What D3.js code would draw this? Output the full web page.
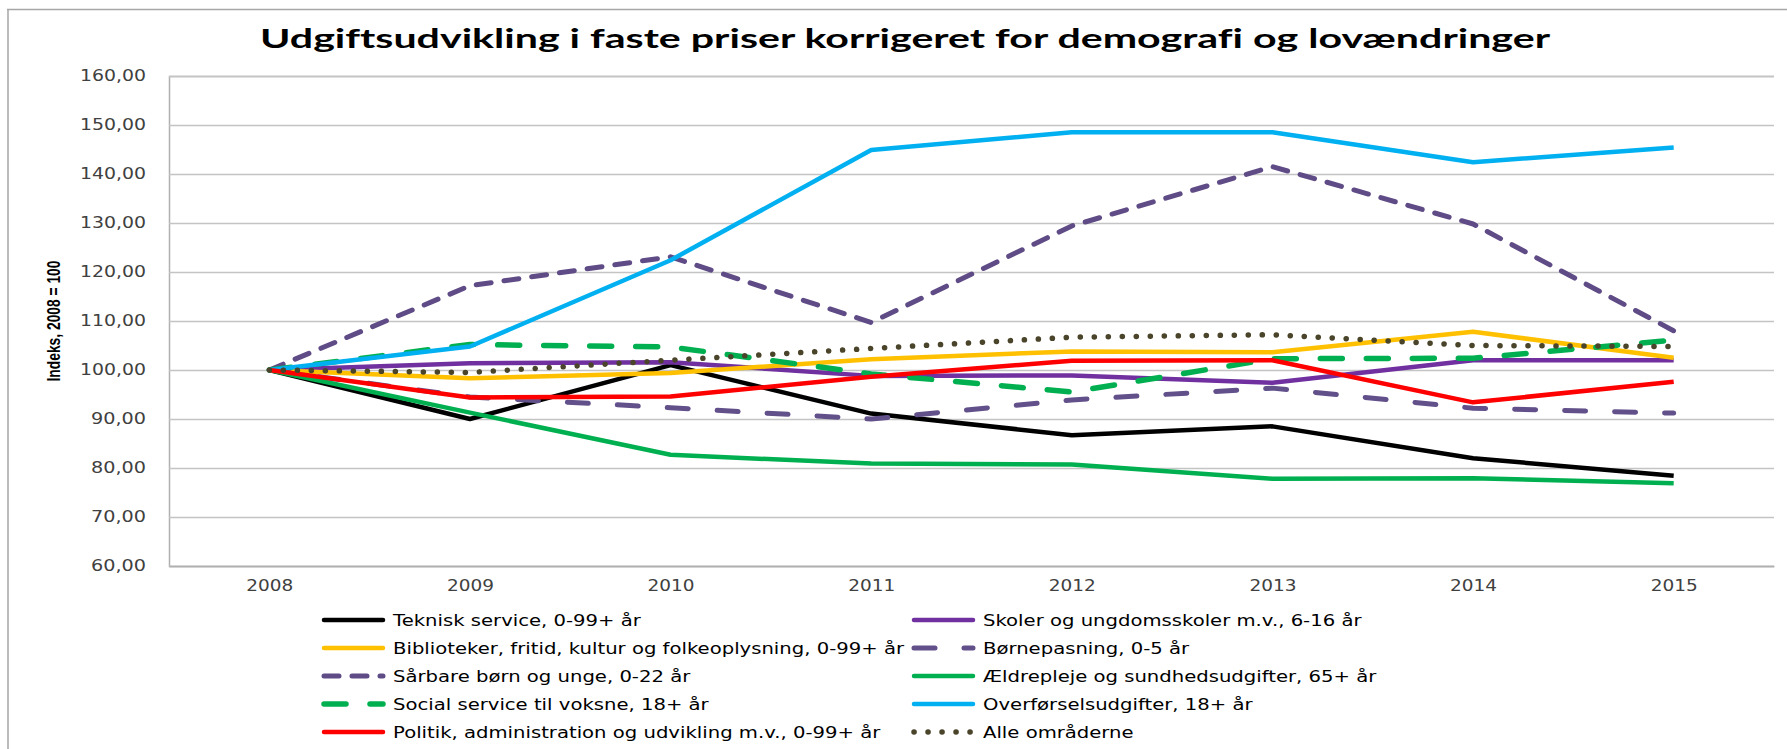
<!DOCTYPE html>
<html><head><meta charset="utf-8">
<script src="https://cdn.jsdelivr.net/npm/d3@7/dist/d3.min.js"></script>
<style>body{margin:0;background:#fff;} svg{display:block;} text{font-variant-ligatures:none;}</style>
</head><body>
<svg id="chart" width="1787" height="749"></svg>
<script>
// ---- data ----
const years = ["2008","2009","2010","2011","2012","2013","2014","2015"];
const yTicks = [60,70,80,90,100,110,120,130,140,150,160];
const titleText = "Udgiftsudvikling i faste priser korrigeret for demografi og lovændringer";
const yAxisTitle = "Indeks, 2008 = 100";

const teknisk     = [100, 90.0, 101.0, 91.1, 86.7, 88.5, 82.0, 78.4];
const skoler      = [100, 101.4, 101.6, 98.8, 98.9, 97.4, 102.0, 102.0];
const biblioteker = [100, 98.3, 99.4, 102.2, 103.8, 103.6, 107.8, 102.5];
const boernepasning = [100, 94.5, 92.3, 90.0, 93.9, 96.3, 92.2, 91.2];
const saarbare    = [100, 117.2, 123.1, 109.7, 129.4, 141.5, 129.8, 108.0];
const aeldrepleje = [100, 91.3, 82.7, 80.9, 80.7, 77.8, 77.9, 76.9];
const socialService = [100, 105.2, 104.7, 99.2, 95.5, 102.3, 102.4, 106.1];
const overfoersel = [100, 104.8, 122.4, 144.9, 148.5, 148.5, 142.4, 145.4];
const politik     = [100, 94.4, 94.6, 98.6, 101.9, 102.0, 93.4, 97.6];
const alle        = [100, 99.5, 102.0, 104.4, 106.7, 107.2, 105.0, 104.8];

const seriesNames = [
  "Teknisk service, 0-99+ år",
  "Skoler og ungdomsskoler m.v., 6-16 år",
  "Biblioteker, fritid, kultur og folkeoplysning, 0-99+ år",
  "Børnepasning, 0-5 år",
  "Sårbare børn og unge, 0-22 år",
  "Ældrepleje og sundhedsudgifter, 65+ år",
  "Social service til voksne, 18+ år",
  "Overførselsudgifter, 18+ år",
  "Politik, administration og udvikling m.v., 0-99+ år",
  "Alle områderne"
];
const seriesValues = [teknisk, skoler, biblioteker, boernepasning, saarbare,
  aeldrepleje, socialService, overfoersel, politik, alle];

// ---- styles (separate from data) ----
const styles = [
  {color:"#000000", width:4.5, dash:null},
  {color:"#7030a0", width:4.5, dash:null},
  {color:"#ffc000", width:4.5, dash:null},
  {color:"#62508a", width:5, dash:"21,29", cap:"round"},
  {color:"#5f4b85", width:5, dash:"15,13", cap:"round"},
  {color:"#00b050", width:4.5, dash:null},
  {color:"#00b050", width:5.5, dash:"22,24", cap:"round"},
  {color:"#00b0f0", width:4.5, dash:null},
  {color:"#ff0000", width:4.5, dash:null},
  {color:"#4a452a", width:5.5, dash:"0.1,13.9", cap:"round"}
];
const series = seriesNames.map((n,i)=>({name:n, values:seriesValues[i], style:styles[i]}));

// ---- layout ----
const svg = d3.select("#chart");
const plot = {left:169, right:1774, top:76, bottom:566};

const x = d3.scalePoint().domain(years).range([plot.left, plot.right]).padding(0.5);
const y = d3.scaleLinear().domain([60,160]).range([plot.bottom, plot.top]);

// chart border
svg.append("line").attr("x1",7).attr("x2",1787).attr("y1",9.5).attr("y2",9.5)
  .attr("stroke","#a6a6a6").attr("stroke-width",1.5);
svg.append("line").attr("x1",8).attr("x2",8).attr("y1",9).attr("y2",749)
  .attr("stroke","#a6a6a6").attr("stroke-width",1.5);

// title
svg.append("text").text(titleText)
  .attr("x",905).attr("y",48).attr("text-anchor","middle")
  .attr("font-family","Lato, 'Open Sans', sans-serif").attr("font-weight","bold")
  .attr("font-size",27).attr("fill","#000")
  .attr("textLength",1290).attr("lengthAdjust","spacingAndGlyphs");

// y axis with gridlines
const yAxis = d3.axisLeft(y).tickValues(yTicks)
  .tickFormat(d => d3.format(".2f")(d).replace(".", ","))
  .tickSize(-(plot.right-plot.left)).tickPadding(23);
const gy = svg.append("g").attr("transform",`translate(${plot.left},0)`).call(yAxis);
gy.select(".domain").attr("stroke","#b0b0b0").attr("stroke-width",1.5);
gy.selectAll(".tick line").attr("stroke","#c4c4c4").attr("stroke-width",1.5);
gy.selectAll(".tick text")
  .attr("font-family","'DejaVu Sans', Verdana, sans-serif").attr("font-size",15)
  .attr("fill","#404040")
  .attr("textLength", d => d >= 100 ? 66 : 55).attr("lengthAdjust","spacingAndGlyphs");

// x axis labels
const xAxis = d3.axisBottom(x).tickSize(0).tickPadding(14);
const gx = svg.append("g").attr("transform",`translate(0,${plot.bottom})`).call(xAxis);
gx.select(".domain").attr("stroke","#b0b0b0").attr("stroke-width",1.5);
gx.selectAll(".tick text")
  .attr("font-family","'DejaVu Sans', Verdana, sans-serif").attr("font-size",15)
  .attr("fill","#404040")
  .attr("textLength",47).attr("lengthAdjust","spacingAndGlyphs");

// y axis title
svg.append("text").text(yAxisTitle)
  .attr("transform","translate(60,321) rotate(-90)")
  .attr("text-anchor","middle")
  .attr("font-family","'Liberation Sans Narrow', 'Liberation Sans', sans-serif")
  .attr("font-weight","bold").attr("font-size",17.5).attr("fill","#000")
  .attr("textLength",121).attr("lengthAdjust","spacingAndGlyphs");

// lines
const line = d3.line().x((d,i)=>x(years[i])).y(d=>y(d));
const gl = svg.append("g");
series.forEach(s=>{
  gl.append("path").datum(s.values)
    .attr("d", line).attr("fill","none")
    .attr("stroke", s.style.color).attr("stroke-width", s.style.width)
    .attr("stroke-linejoin","round")
    .attr("stroke-linecap", s.style.cap || "butt")
    .attr("stroke-dasharray", s.style.dash);
});

// legend
const legX = [322, 912], legY0 = 620, legDY = 28, legLen = 63;
const lg = svg.append("g");
const texts = [];
series.forEach((s,i)=>{
  const col = i % 2, row = Math.floor(i/2);
  const lx = legX[col], ly = legY0 + row*legDY;
  lg.append("line").attr("x1",lx+2).attr("x2",lx+legLen-2).attr("y1",ly).attr("y2",ly)
    .attr("stroke", s.style.color).attr("stroke-width", s.style.width)
    .attr("stroke-linecap", s.style.cap || "round")
    .attr("stroke-dasharray", s.style.dash);
  const t = lg.append("text").text(s.name)
    .attr("x", lx+legLen+8).attr("y", ly).attr("dy","0.36em")
    .attr("font-family","'DejaVu Sans', Verdana, sans-serif").attr("font-size",15.5)
    .attr("fill","#000");
  texts.push(t);
});
// stretch legend text uniformly to match the reference width of the longest entry
const longest = texts[2].node().getComputedTextLength();
const k = 511 / longest;
texts.forEach(t=>{
  const w = t.node().getComputedTextLength();
  t.attr("textLength", w*k).attr("lengthAdjust","spacingAndGlyphs");
});
</script>
</body></html>
